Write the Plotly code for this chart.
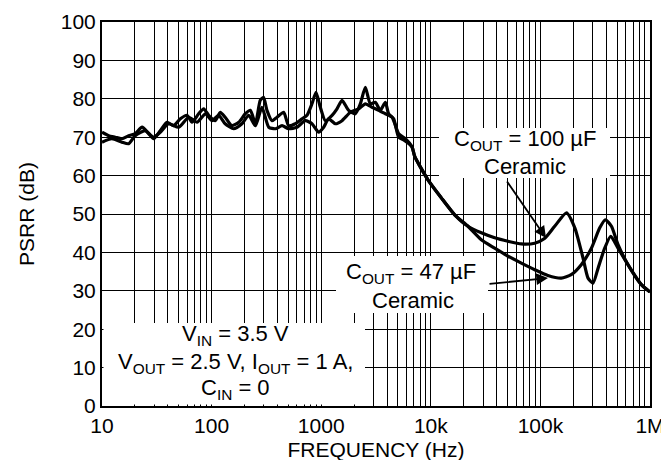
import plotly.graph_objects as go

# ---------------- data ----------------
freq_100 = [10, 11.5, 13.2, 15.2, 17.5, 20.1, 23.2, 26.7, 29.6, 34.0, 39.2, 45.1, 51.9, 59.7,
            66.2, 76.2, 84.7, 94.0, 108, 120, 133, 153, 177, 203, 226, 251, 278, 298, 320,
            356, 395, 455, 505, 581, 668, 742, 824, 897, 982, 1091, 1256, 1394, 1549, 1782,
            2049, 2275, 2528, 2808, 3119, 3465, 3848, 4127, 4584, 5092, 5656, 6733,
            7130, 9420, 12480, 16520, 21830, 28900, 38300, 50600, 67000, 88700, 109000,
            135000, 173000, 206000, 245000, 272000, 302000, 336000, 386000, 438000,
            511000, 630000, 834000, 1000000]
psrr_100 = [71.3, 70.4, 70.0, 69.6, 70.4, 70.9, 72.6, 70.9, 69.6, 71.7, 73.9, 73.0, 74.8, 75.7,
            73.9, 76.1, 77.4, 75.7, 74.3, 76.5, 75.2, 73.0, 73.9, 76.1, 77.0, 73.5, 79.6, 80.4,
            77.0, 74.3, 75.2, 76.5, 73.0, 73.5, 74.8, 75.7, 78.7, 81.7, 77.8, 74.3, 75.7, 77.4,
            79.6, 77.0, 76.1, 78.7, 83.0, 78.7, 79.1, 77.0, 79.1, 76.1, 74.8, 70.0, 69.3, 67.5,
            65.0, 58.9, 54.2, 49.8, 46.8, 45.1, 43.8, 42.9, 42.2, 42.4, 43.6,
            46.8, 50.3, 46.4, 38.5, 33.3, 32.0, 35.9, 41.1, 44.2,
            41.1, 36.8, 31.6, 29.7]

freq_47 = [10, 12.3, 15.2, 17.5, 20.1, 24.8, 29.6, 34.0, 40.5, 50.1, 61.8, 73.6, 87.7, 101,
           116, 133, 159, 189, 218, 251, 288, 332, 382, 439, 505, 601, 716, 824, 948, 1053,
           1170, 1346, 1549, 1845, 2198, 2528, 2908, 3345, 3848, 4427, 5092, 5860, 6733,
           7130, 9420, 12480, 16520, 21830, 28900, 38300, 50600, 67000, 88700, 117000,
           155000, 191000, 236000, 292000, 348000, 392000, 445000, 511000, 630000,
           834000, 1000000]
psrr_47 = [68.7, 69.6, 68.7, 68.3, 70.4, 71.7, 70.0, 71.3, 73.5, 72.6, 75.2, 73.9, 76.1, 74.3,
           75.7, 73.5, 72.2, 73.5, 75.7, 73.0, 77.8, 72.6, 72.2, 73.0, 72.2, 72.6, 74.3, 73.5,
           71.3, 72.6, 74.8, 73.5, 74.3, 76.5, 77.4, 78.7, 77.8, 77.0, 76.1, 75.2, 70.9, 69.6,
           67.5, 65.0, 58.9, 54.2, 49.8, 46.8, 43.3, 41.1, 39.0, 37.2, 35.5, 34.0,
           33.3, 34.2, 36.8, 41.1, 46.4, 48.5, 46.8, 42.0, 36.8,
           31.6, 29.7]

x_tickvals = [m * 10 ** e for e in range(1, 6) for m in range(1, 10)] + [1000000]
x_ticktext = [{10: "10", 100: "100", 1000: "1000", 10000: "10k", 100000: "100k"}.get(v, "")
              for v in x_tickvals[:-1]] + ["1M"]
y_tickvals = [0, 10, 20, 30, 40, 50, 60, 70, 80, 90, 100]

FONT = "Liberation Sans, Arial, Helvetica, sans-serif"
FS = 21
FS_ANN = 22

fig = go.Figure()
for f, p in ((freq_100, psrr_100), (freq_47, psrr_47)):
    fig.add_trace(go.Scatter(x=f, y=p, mode="lines",
                             line=dict(color="black", width=3.2, shape="spline", smoothing=0.6),
                             showlegend=False, hoverinfo="skip"))

W, H = 669, 460
L, R, T, B = 94, 27, 14, 62
pw, ph = W - L - R, H - T - B


def px(x):
    return (x - L) / pw


def py(y):
    return (H - B - y) / ph


# white boxes behind the text
boxes = [(431, 602, 120, 170), (328, 480, 248, 305), (95.5, 357, 315, 396.5)]
for x0, x1, y0, y1 in boxes:
    fig.add_shape(type="rect", xref="paper", yref="paper",
                  x0=px(x0), x1=px(x1), y0=py(y1), y1=py(y0),
                  fillcolor="white", line=dict(width=0), layer="above")

texts = [
    ("C<sub>OUT</sub> = 100 µF", 517, 132),
    ("Ceramic", 517, 158),
    ("C<sub>OUT</sub> = 47 µF", 403, 265),
    ("Ceramic", 405, 292),
    ("V<sub>IN</sub> = 3.5 V", 227, 327),
    ("V<sub>OUT</sub> = 2.5 V, I<sub>OUT</sub> = 1 A,", 227, 355),
    ("C<sub>IN</sub> = 0", 227, 381),
]
for t, x, y in texts:
    fig.add_annotation(text=t, xref="paper", yref="paper", x=px(x), y=py(y),
                       xanchor="center", yanchor="middle", showarrow=False,
                       font=dict(family=FONT, size=FS_ANN, color="black"))

# arrows: (tip x, tip y, tail x, tail y)
arrows = [(538, 230, 498, 172), (540, 270, 480, 276)]
for tx, ty, sx, sy in arrows:
    fig.add_annotation(text="", xref="paper", yref="paper", x=px(tx), y=py(ty),
                       ax=sx - tx, ay=sy - ty, showarrow=True,
                       arrowhead=2, arrowsize=1.3, arrowwidth=1.8, arrowcolor="black",
                       standoff=0, startstandoff=0)

fig.update_layout(
    width=W, height=H,
    margin=dict(l=L, r=R, t=T, b=B, autoexpand=False),
    paper_bgcolor="white", plot_bgcolor="white",
    font=dict(family=FONT, size=FS, color="black"),
    xaxis=dict(type="log", range=[1, 6], tickvals=x_tickvals, ticktext=x_ticktext,
               showgrid=True, gridcolor="black", gridwidth=1.2,
               showline=True, linecolor="black", linewidth=2, mirror=True,
               ticks="", zeroline=False,
               tickfont=dict(family=FONT, size=FS),
               title=dict(text="FREQUENCY (Hz)", standoff=6,
                          font=dict(family=FONT, size=FS))),
    yaxis=dict(range=[0, 100], tickvals=y_tickvals,
               showgrid=True, gridcolor="black", gridwidth=1.2,
               showline=True, linecolor="black", linewidth=2, mirror=True,
               ticks="", zeroline=False,
               tickfont=dict(family=FONT, size=FS),
               title=dict(text="PSRR (dB)", standoff=20,
                          font=dict(family=FONT, size=FS))),
)

fig.write_html("out.html")
